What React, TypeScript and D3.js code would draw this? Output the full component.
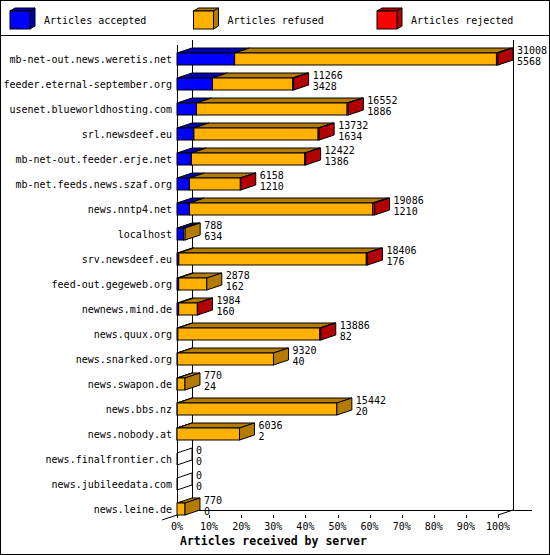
import React from "react";
import * as d3 from "d3";

const servers = [
  "mb-net-out.news.weretis.net",
  "feeder.eternal-september.org",
  "usenet.blueworldhosting.com",
  "srl.newsdeef.eu",
  "mb-net-out.feeder.erje.net",
  "mb-net.feeds.news.szaf.org",
  "news.nntp4.net",
  "localhost",
  "srv.newsdeef.eu",
  "feed-out.gegeweb.org",
  "newnews.mind.de",
  "news.quux.org",
  "news.snarked.org",
  "news.swapon.de",
  "news.bbs.nz",
  "news.nobody.at",
  "news.finalfrontier.ch",
  "news.jubileedata.com",
  "news.leine.de",
];
// total articles received per server (first label)
const received = [31008, 11266, 16552, 13732, 12422, 6158, 19086, 788, 18406, 2878, 1984, 13886, 9320, 770, 15442, 6036, 0, 0, 770];
// accepted articles (second label)
const accepted = [5568, 3428, 1886, 1634, 1386, 1210, 1210, 634, 176, 162, 160, 82, 40, 24, 20, 2, 0, 0, 0];
// rejected articles, estimated from the thin red slices
const rejected = [150, 90, 120, 100, 90, 40, 180, 0, 120, 0, 20, 90, 0, 0, 0, 0, 0, 0, 0];

const legendLabels = ["Articles accepted", "Articles refused", "Articles rejected"];
const colors = ["#0000ff", "#ffb000", "#ff0000"];
const tickValues = d3.range(0, 101, 10);

const W = 550;
const H = 555;
const DX = 15;
const DY = 5;
const FONT = "'DejaVu Sans Mono', 'Liberation Mono', monospace";

// darker face colour for tops and sides
const shade = (c: string) => {
  const r = d3.rgb(c);
  return d3.rgb(r.r * 0.7, r.g * 0.7, r.b * 0.7).formatHex();
};

export default function App() {
  const maxTotal = d3.max(received) || 1;
  const x = d3.scaleLinear().domain([0, 100]).range([177, 498]);
  const y = d3.scaleBand<string>().domain(servers).range([40, 515]).padding(0);
  const px = (v: number) => x((v / maxTotal) * 100) - x(0);

  const x0 = x(0);
  const xEnd = x(100);
  const floorY = y.range()[1];

  return (
    <svg
      width={W}
      height={H}
      style={{ position: "absolute", left: 0, top: 0, background: "#fff" }}
      fontFamily={FONT}
    >
      <rect x={0.5} y={0.5} width={W - 1} height={H - 1} fill="#fff" stroke="#000" />
      <line x1={0} x2={W} y1={35.5} y2={35.5} stroke="#000" />

      {/* Legend */}
      {legendLabels.map((l, i) => {
        const lx = 10 + i * 183.5;
        const c = colors[i];
        const d = shade(c);
        return (
          <g key={l}>
            <polygon
              points={`${lx},11 ${lx + 5},8 ${lx + 25},8 ${lx + 20},11`}
              fill={d}
              stroke="#000"
            />
            <polygon
              points={`${lx + 20},11 ${lx + 25},8 ${lx + 25},26 ${lx + 20},29`}
              fill={d}
              stroke="#000"
            />
            <rect x={lx} y={11} width={20} height={18} fill={c} stroke="#000" />
            <text x={lx + 34} y={24} fontSize={10}>
              {l}
            </text>
          </g>
        );
      })}

      {/* Walls and floor */}
      <g stroke="#000" fill="none" shapeRendering="crispEdges">
        <line x1={x0 + DX + 0.5} x2={x0 + DX + 0.5} y1={40} y2={floorY - DY} />
        <line x1={xEnd + DX + 0.5} x2={xEnd + DX + 0.5} y1={40} y2={floorY - DY} />
        <line x1={x0 + DX} x2={xEnd + DX + 19} y1={floorY - DY + 0.5} y2={floorY - DY + 0.5} />
        <line x1={x0 + 0.5} x2={x0 + 0.5} y1={45} y2={floorY} />
        {tickValues.map((t) => (
          <line key={t} x1={Math.round(x(t)) + 0.5} x2={Math.round(x(t)) + 0.5} y1={floorY} y2={floorY + 3} />
        ))}
      </g>
      <line x1={x0 - DX} y1={floorY + DY} x2={x0 + DX} y2={floorY - DY} stroke="#000" />
      <line x1={xEnd} y1={floorY} x2={xEnd + DX} y2={floorY - DY} stroke="#000" />

      {/* Bars */}
      {servers.map((s, i) => {
        const refused = received[i] - accepted[i] - rejected[i];
        const vals = [accepted[i], refused, rejected[i]];
        const y1 = (y(s) || 0) + y.bandwidth();
        const y0 = y1 - 12;
        let cum = 0;
        let lastColor = "";
        const segs = vals.map((v, k) => {
          const a = x0 + px(cum);
          cum += v;
          const b = x0 + px(cum);
          if (v <= 0) return null;
          lastColor = colors[k];
          return (
            <g key={k}>
              <polygon
                points={`${a},${y0} ${a + DX},${y0 - DY} ${b + DX},${y0 - DY} ${b},${y0}`}
                fill={shade(colors[k])}
                stroke="#000"
              />
              <rect x={a} y={y0} width={b - a} height={y1 - y0} fill={colors[k]} stroke="#000" />
            </g>
          );
        });
        const e = x0 + px(received[i]);
        return (
          <g key={s}>
            {segs}
            <polygon
              points={`${e},${y0} ${e + DX},${y0 - DY} ${e + DX},${y1 - DY} ${e},${y1}`}
              fill={lastColor ? shade(lastColor) : "none"}
              stroke="#000"
            />
            <text x={172} y={y1 - 2} fontSize={10} textAnchor="end">
              {s}
            </text>
            <text x={e + DX + 4} y={y1 - 11} fontSize={10}>
              {received[i]}
            </text>
            <text x={e + DX + 4} y={y1} fontSize={10}>
              {accepted[i]}
            </text>
          </g>
        );
      })}

      {/* Axis labels */}
      {tickValues.map((t) => (
        <text key={t} x={x(t)} y={530} fontSize={10} textAnchor="middle">
          {t}%
        </text>
      ))}
      <text x={180} y={545} fontSize={11.5} fontWeight="bold">
        Articles received by server
      </text>
    </svg>
  );
}
